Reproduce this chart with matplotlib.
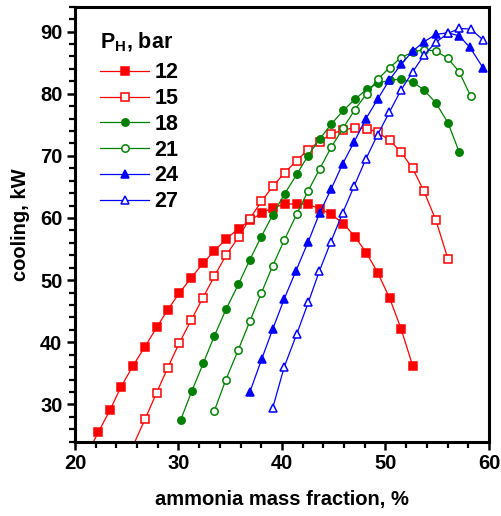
import matplotlib
matplotlib.use("Agg")
import matplotlib.pyplot as plt
from matplotlib.ticker import MultipleLocator

plt.rcParams['font.family'] = ['Liberation Sans', 'DejaVu Sans']
plt.rcParams['font.weight'] = 'bold'
plt.rcParams['mathtext.fontset'] = 'custom'
plt.rcParams['mathtext.bf'] = 'Liberation Sans:bold'
plt.rcParams['mathtext.rm'] = 'Liberation Sans:bold'

# ---- data ----
x12 = [21.10, 22.25, 23.38, 24.44, 25.60, 26.76, 27.90, 28.95, 30.07, 31.24, 32.37, 33.46, 34.60,
       35.80, 36.90, 38.04, 39.10, 40.26, 41.42, 42.50, 43.64, 44.76, 45.92, 47.05, 48.15,
       49.25, 50.40, 51.50, 52.63]
y12 = [21.8, 25.5, 29.1, 32.8, 36.2, 39.3, 42.4, 45.2, 47.9, 50.4, 52.7, 54.7, 56.6,
       58.3, 59.6, 60.8, 61.65, 62.2, 62.3, 62.2, 61.5, 60.6, 59.1, 57.0, 54.4,
       51.2, 47.1, 42.2, 36.2]

x15 = [25.60, 26.76, 27.89, 28.96, 30.08, 31.24, 32.37, 33.46, 34.59, 35.80, 36.90, 38.02, 39.13,
       40.26, 41.42, 42.51, 43.64, 44.76, 45.92, 47.05, 48.18, 49.24, 50.40, 51.50, 52.62,
       53.72, 54.88, 56.04]
y15 = [23.3, 27.6, 31.9, 35.9, 39.9, 43.6, 47.2, 50.6, 54.0, 56.9, 59.9, 62.7, 65.1,
       67.3, 69.2, 71.0, 72.3, 73.5, 74.2, 74.5, 74.4, 73.8, 72.5, 70.6, 68.0,
       64.3, 59.6, 53.4]

x18 = [30.21, 31.30, 32.40, 33.46, 34.59, 35.78, 36.90, 38.00, 39.10, 40.26, 41.42, 42.51,
       43.64, 44.76, 45.92, 47.05, 48.18, 49.24, 50.40, 51.50, 52.62, 53.72, 54.88, 56.04, 57.13]
y18 = [27.5, 32.2, 36.65, 41.0, 45.3, 49.3, 53.3, 57.0, 60.5, 63.9, 67.0, 70.0,
       72.7, 75.1, 77.3, 79.1, 80.7, 81.65, 82.2, 82.3, 81.9, 80.6, 78.5, 75.3, 70.6]

x21 = [33.46, 34.56, 35.78, 36.90, 38.00, 39.10, 40.24, 41.42, 42.51, 43.64, 44.76, 45.92,
       47.05, 48.18, 49.24, 50.40, 51.50, 52.62, 53.72, 54.88, 56.04, 57.13, 58.23]
y21 = [28.95, 33.9, 38.8, 43.4, 47.9, 52.3, 56.5, 60.6, 64.3, 67.9, 71.4, 74.5,
       77.45, 80.0, 82.3, 84.2, 85.8, 86.7, 87.1, 86.85, 85.7, 83.5, 79.6]

x24 = [36.90, 38.04, 39.10, 40.22, 41.35, 42.54, 43.64, 44.76, 45.86, 46.99, 48.12, 49.24,
       50.37, 51.50, 52.62, 53.72, 54.88, 56.04, 57.13, 58.16, 59.45]
y24 = [32.0, 37.3, 42.1, 47.0, 51.5, 56.2, 60.8, 64.7, 68.7, 72.3, 76.0, 79.1,
       82.2, 84.7, 86.85, 88.35, 89.55, 89.8, 89.3, 87.45, 84.1]

x27 = [39.10, 40.22, 41.42, 42.54, 43.60, 44.73, 45.86, 46.99, 48.12, 49.24, 50.37, 51.50,
       52.62, 53.72, 54.88, 56.04, 57.13, 58.23, 59.40]
y27 = [29.4, 36.05, 41.3, 46.4, 51.4, 56.2, 60.8, 65.2, 69.55, 73.4, 77.0, 80.6,
       83.5, 86.2, 88.3, 89.7, 90.5, 90.4, 88.7]

labels = ['12', '15', '18', '21', '24', '27']
xticks = [20, 30, 40, 50, 60]
yticks = [30, 40, 50, 60, 70, 80, 90]

series = [
    (x12, y12, '#ff0000', 's', True),
    (x15, y15, '#ff0000', 's', False),
    (x18, y18, '#008000', 'o', True),
    (x21, y21, '#008000', 'o', False),
    (x24, y24, '#0000ff', '^', True),
    (x27, y27, '#0000ff', '^', False),
]

fig = plt.figure(figsize=(5.01, 5.16), dpi=100)
ax = fig.add_axes([0.1497, 0.144, 0.8263, 0.843])

for (xs, ys, c, m, filled), lab in zip(series, labels):
    ms = 6.2 if m == '^' else 5.3
    ax.plot(xs, ys, color=c, lw=0.9, marker=m, ms=ms,
            mfc=c if filled else 'white', mec=c, mew=1.1, label=lab)

ax.set_xlim(20, 60)
ax.set_ylim(24, 94)
ax.set_xticks(xticks)
ax.set_yticks(yticks)
ax.xaxis.set_minor_locator(MultipleLocator(2))
ax.yaxis.set_minor_locator(MultipleLocator(2))
ax.tick_params(which='major', direction='out', length=6, width=1.8, labelsize=14.5, pad=3)
ax.tick_params(which='minor', direction='out', length=4, width=1.6)
for lab in ax.get_xticklabels() + ax.get_yticklabels():
    lab.set_fontweight('bold')
for s in ax.spines.values():
    s.set_linewidth(2.2)

ax.set_xlabel('ammonia mass fraction, %', fontsize=14.5, fontweight='bold', labelpad=12)
ax.set_ylabel('cooling, kW', fontsize=14.5, fontweight='bold', labelpad=7)

leg = ax.legend(loc='upper left', bbox_to_anchor=(0.03, 0.974), frameon=False,
                title=r'$\mathbf{P_{H}}$, bar', fontsize=15.5, handlelength=2.25,
                handletextpad=0.25, labelspacing=0.22, borderaxespad=0.2)
leg.get_title().set_fontsize(15.5)
leg.get_title().set_fontweight('bold')
leg._legend_box.align = 'left'
leg._legend_box.sep = 6
for t in leg.get_texts():
    t.set_fontweight('bold')

fig.savefig('out.png', dpi=100)
